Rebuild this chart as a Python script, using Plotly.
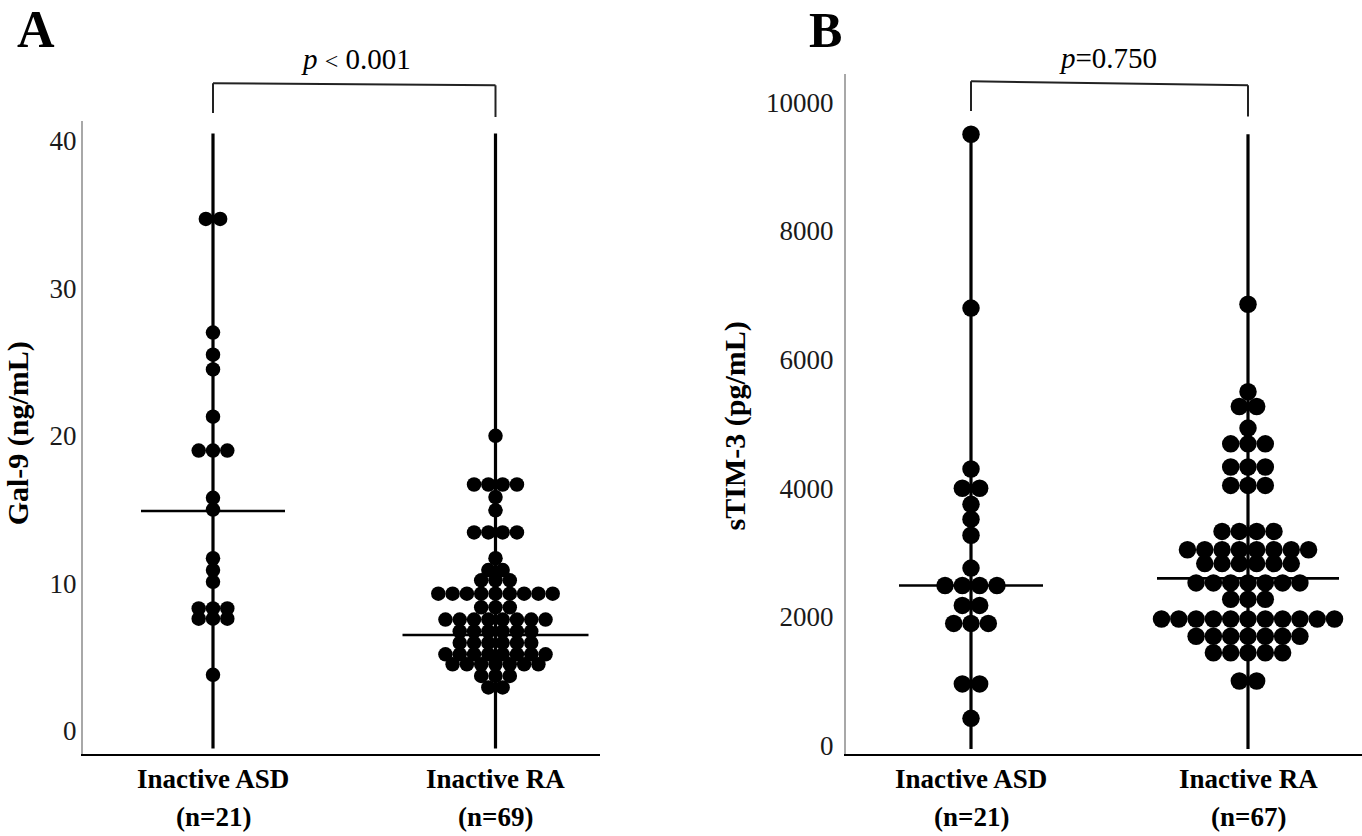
import plotly.graph_objects as go

W, H = 1362, 836

# ---------------- data ----------------
categories = ["Inactive ASD", "Inactive RA"]
n_A = ["(n=21)", "(n=69)"]
n_B = ["(n=21)", "(n=67)"]

gal9_asd = [34.7, 34.7, 27.0, 25.5, 24.5, 21.3, 19.0, 19.0, 19.0, 15.8, 15.0,
            11.7, 10.9, 10.1, 8.3, 8.3, 8.3, 7.6, 7.6, 7.6, 3.8]
gal9_ra = [20.0,
           16.7, 16.7, 16.7, 16.7,
           15.85, 14.95,
           13.45, 13.45, 13.45, 13.45,
           11.7,
           10.9, 10.9,
           10.2, 10.2, 10.2,
           9.3, 9.3, 9.3, 9.3, 9.3, 9.3, 9.3, 9.3, 9.3,
           8.37, 8.37, 8.37,
           7.54, 7.54, 7.54, 7.54, 7.54, 7.54, 7.54, 7.54,
           6.75, 6.75, 6.75, 6.75, 6.75, 6.75,
           5.97, 5.97, 5.97, 5.97, 5.97, 5.97,
           5.19, 5.19, 5.19, 5.19, 5.19, 5.19, 5.19, 5.19,
           4.51, 4.51, 4.51, 4.51, 4.51, 4.51, 4.51,
           3.72, 3.72, 3.72,
           2.94, 2.94]
gal9_center = [14.9, 6.5]
gal9_span = [-1.2, 40.5]
gal9_ticks = [0, 10, 20, 30, 40]

stim3_asd = [9500, 6800, 4300, 4000, 4000, 3750, 3520, 3270, 2760,
             2490, 2490, 2490, 2490, 2180, 2180, 1900, 1900, 1900,
             960, 960, 425]
stim3_ra = [6860,
            5500,
            5270, 5270,
            4935,
            4690, 4690, 4690,
            4330, 4330, 4330,
            4045, 4045, 4045,
            3330, 3330, 3330, 3330,
            3045, 3045, 3045, 3045, 3045, 3045, 3045, 3045,
            2830, 2830, 2830, 2830, 2830, 2830,
            2530, 2530, 2530, 2530, 2530, 2530, 2530,
            2275, 2275, 2275,
            1968, 1968, 1968, 1968, 1968, 1968, 1968, 1968, 1968, 1968, 1968,
            1700, 1700, 1700, 1700, 1700, 1700, 1700,
            1444, 1444, 1444, 1444, 1444,
            1005, 1005]
stim3_center = [2490, 2600]
stim3_span = [-50, 9500]
stim3_ticks = [0, 2000, 4000, 6000, 8000, 10000]

p_text_A = "<i>p</i> <span style='font-size:24px'>&lt;</span> 0.001"
p_text_B = "<i>p</i>=0.750"

# ---------------- layout geometry (pixels) ----------------
FONT = "Liberation Serif"
A_box = dict(left=83, right=600, top=121.7, bottom=760.7, c1=213, c2=495.5, y0px=737, ppu=14.875)
B_box = dict(left=846, right=1362, top=75, bottom=760, c1=971, c2=1248, y0px=752, ppu=0.0649)


def px(x):
    return x / W


def py(y):
    return 1 - y / H


def axis_ranges(b):
    ppx = b["c2"] - b["c1"]
    xr = [1 - (b["c1"] - b["left"]) / ppx, 2 + (b["right"] - b["c2"]) / ppx]
    yr = [(b["y0px"] - b["bottom"]) / b["ppu"], (b["y0px"] - b["top"]) / b["ppu"]]
    return xr, yr, ppx


def swarm(values, pos, spacing_px, ppx):
    xs, ys = [], []
    groups = {}
    order = []
    for v in values:
        if v not in groups:
            groups[v] = 0
            order.append(v)
        groups[v] += 1
    for v in order:
        k = groups[v]
        for i in range(k):
            xs.append(pos + (i - (k - 1) / 2) * spacing_px / ppx)
            ys.append(v)
    return xs, ys


fig = go.Figure()

panels = [
    ("x", "y", A_box, [gal9_asd, gal9_ra], gal9_center, gal9_span, 14.5, 14.3, [72, 93]),
    ("x2", "y2", B_box, [stim3_asd, stim3_ra], stim3_center, stim3_span, 17.5, 17.3, [72, 91]),
]

for xa, ya, box, groups, centers, span, msize, spacing, half_w in panels:
    xr, yr, ppx = axis_ranges(box)
    for gi, vals in enumerate(groups):
        pos = gi + 1
        fig.add_trace(go.Scatter(x=[pos, pos], y=span, mode="lines",
                                 line=dict(color="black", width=3.2),
                                 xaxis=xa, yaxis=ya, showlegend=False, hoverinfo="skip"))
        xs, ys = swarm(vals, pos, spacing, ppx)
        fig.add_trace(go.Scatter(x=xs, y=ys, mode="markers",
                                 marker=dict(color="black", size=msize, line=dict(width=0)),
                                 xaxis=xa, yaxis=ya, showlegend=False))
        hw = half_w[gi] / ppx
        fig.add_trace(go.Scatter(x=[pos - hw, pos + hw], y=[centers[gi], centers[gi]],
                                 mode="lines", line=dict(color="black", width=2.6),
                                 xaxis=xa, yaxis=ya, showlegend=False, hoverinfo="skip"))

xrA, yrA, _ = axis_ranges(A_box)
xrB, yrB, _ = axis_ranges(B_box)

common_x = dict(showgrid=False, zeroline=False, showline=True, linecolor="black", linewidth=2,
                ticks="", showticklabels=False)
common_y = dict(showgrid=False, zeroline=False, showline=True, linecolor="#a8a8a8", linewidth=2,
                ticks="", tickfont=dict(family=FONT, size=27, color="#1a1a1a"), tickformat="d")

fig.update_layout(
    width=W, height=H, margin=dict(l=0, r=0, t=0, b=0),
    plot_bgcolor="white", paper_bgcolor="white",
    xaxis=dict(domain=[px(A_box["left"]), px(A_box["right"])], range=xrA, anchor="y", **common_x),
    yaxis=dict(domain=[py(A_box["bottom"]), py(A_box["top"])], range=yrA,
               tickvals=gal9_ticks, anchor="x", ticklabelstandoff=-1, **common_y),
    xaxis2=dict(domain=[px(B_box["left"]), px(B_box["right"])], range=xrB, anchor="y2", **common_x),
    yaxis2=dict(domain=[py(B_box["bottom"]), py(B_box["top"])], range=yrB,
                tickvals=stim3_ticks, anchor="x2", ticklabelstandoff=5, **common_y),
)

# category labels (two lines each)
for xref, nlist in [("x", n_A), ("x2", n_B)]:
    for gi, cat in enumerate(categories):
        for text, yy in [(f"<b>{cat}</b>", 786), (f"<b>{nlist[gi]}</b>", 824)]:
            fig.add_annotation(text=text, x=gi + 1, y=py(yy), xref=xref, yref="paper",
                               xanchor="center", yanchor="middle", showarrow=False,
                               font=dict(family=FONT, size=27, color="black"))

# brackets (x in data coords, y in pixels)
brackets = [("x", 84, 86, 114, 118), ("x2", 82, 86, 112, 117.5)]
for xref, yl, yr_, yl2, yr2 in brackets:
    for x0, y0, x1, y1 in [(1, yl, 2, yr_), (1, yl, 1, yl2), (2, yr_, 2, yr2)]:
        fig.add_shape(type="line", xref=xref, yref="paper", x0=x0, x1=x1,
                      y0=py(y0), y1=py(y1), line=dict(color="#222", width=2))

annos = [
    dict(text=p_text_A, x=px(356), y=py(60), size=29, ya="middle"),
    dict(text=p_text_B, x=px(1108), y=py(58), size=29, ya="middle"),
    dict(text="<b>A</b>", x=px(36), y=py(0), size=52, ya="top"),
    dict(text="<b>B</b>", x=px(825), y=py(1), size=50, ya="top"),
]
for a in annos:
    fig.add_annotation(text=a["text"], x=a["x"], y=a["y"], xref="paper", yref="paper",
                       xanchor="center", yanchor=a["ya"], showarrow=False, borderpad=0,
                       font=dict(family=FONT, size=a["size"], color="black"))

for text, x, y in [("<b>Gal-9 (ng/mL)</b>", 18, 437), ("<b>sTIM-3 (pg/mL)</b>", 735, 430)]:
    fig.add_annotation(text=text, x=px(x), y=py(y), xref="paper", yref="paper",
                       xanchor="center", yanchor="middle", showarrow=False, textangle=-90,
                       font=dict(family=FONT, size=30, color="black"))

fig.write_html("out.html", config={"displayModeBar": False},
               post_script="document.body.style.margin='0';document.body.style.overflow='hidden';")
